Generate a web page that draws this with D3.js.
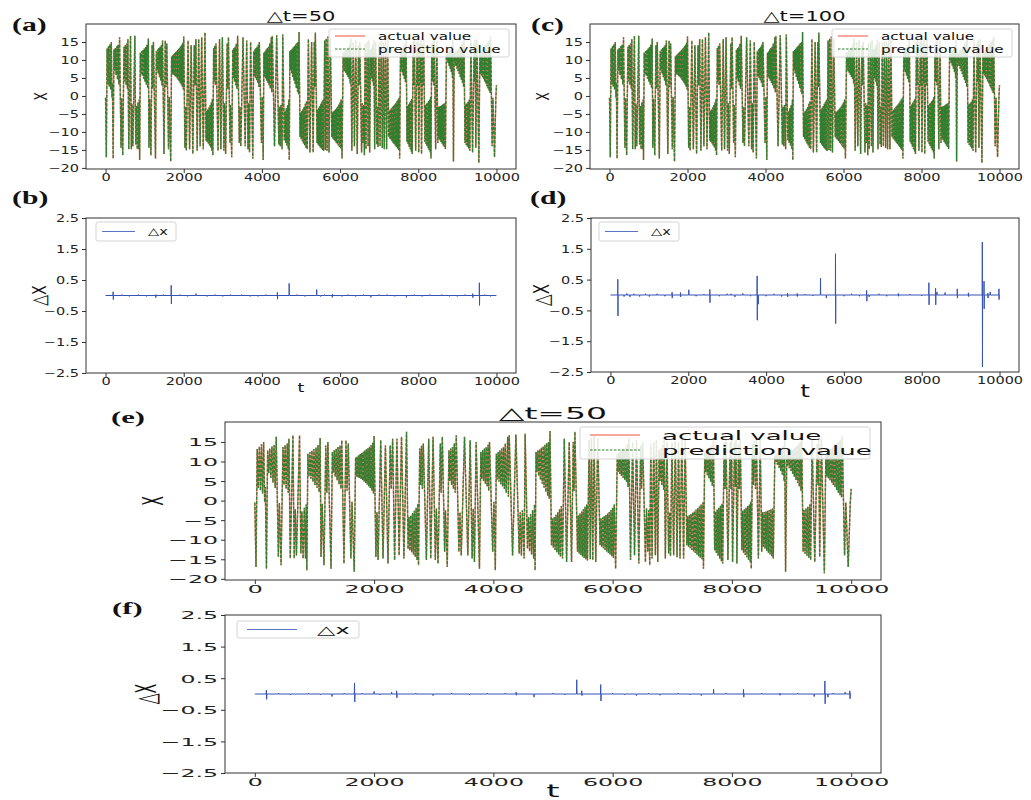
<!DOCTYPE html>
<html>
<head>
<meta charset="utf-8">
<script src="https://cdn.jsdelivr.net/npm/d3@7"></script>
<style>
  body { margin: 0; background: #fff; }
  svg { display: block; }
</style>
</head>
<body>
<svg id="fig" width="1031" height="800"></svg>
<script>
// x(t) extremes, [t, x]
const xPeaks = [
  [0,-0.5],[20,-17.0],[40,13.2],[58,3.2],[76,13.8],[94,2.6],[112,14.4],[130,1.8],[148,15.0],[165,-0.4],[176,3.5],[195,-17.4],
  [215,12.9],[233,7.0],[251,13.3],[269,5.8],[287,13.8],[305,4.6],[323,14.2],[341,3.2],[359,16.3],
  [395,-14.4],[412,-0.6],[440,-16.5],
  [472,13.7],[490,4.0],[508,14.2],[526,3.0],[544,14.6],[560,2.0],[572,15.8],[594,-14.8],[612,-2.5],[639,16.7],[660,-14.8],[678,-2.2],[698,-14.0],[720,-1.5],[750,16.7],[772,-13.5],[790,-2.8],[810,-14.8],[830,-1.8],[850,-14.8],[862,-1.0],[872,-17.8],
  [890,12.0],[907,6.2],[924,12.4],[941,5.6],[958,12.8],[975,4.8],[992,13.2],[1009,4.0],[1026,13.6],[1043,3.2],[1060,14.2],[1077,2.2],[1095,16.0],
  [1110,-14.4],[1130,-0.8],[1160,-16.5],[1190,14.1],[1208,2.0],[1225,15.0],[1278,-17.4],
  [1300,12.4],[1316,7.2],[1332,12.9],[1348,6.2],[1364,13.3],[1380,5.2],[1396,13.7],[1412,4.2],[1428,14.1],[1444,3.0],[1458,15.4],
  [1495,-16.1],[1528,15.4],[1546,2.5],[1567,14.6],[1611,-14.8],[1630,-0.3],[1667,-18.2],
  [1690,11.0],[1703,6.2],[1716,11.3],[1729,6.0],[1742,11.6],[1755,5.8],[1768,11.9],[1781,5.5],[1794,12.2],[1807,5.2],[1820,12.5],[1833,4.9],[1846,12.8],[1859,4.5],[1872,13.1],[1885,4.1],[1898,13.4],[1911,3.7],[1924,13.8],[1937,3.2],[1950,14.2],[1963,2.6],[1976,14.8],[1989,1.8],[2000,16.5],
  [2030,-14.4],[2048,-3.0],[2067,-15.2],[2111,15.4],[2150,-14.8],[2190,14.1],[2233,-16.1],[2270,14.1],[2288,3.0],[2311,15.8],[2344,-15.2],[2383,15.8],[2420,-14.0],[2460,16.3],[2500,-14.8],[2544,17.6],
  [2570,-12.4],[2585,-4.2],[2600,-12.8],[2615,-3.8],[2630,-13.2],[2645,-3.2],[2660,-13.8],[2675,-2.6],[2690,-14.4],[2705,-1.8],[2720,-15.2],[2733,-0.8],[2745,-16.5],
  [2765,13.3],[2780,4.0],[2795,14.0],[2810,3.0],[2825,14.6],[2877,-15.2],[2916,15.8],[2950,-14.8],[2989,16.3],[3027,-15.2],[3045,-2.0],[3072,-16.1],[3111,14.6],[3125,2.0],[3144,16.3],[3183,-13.1],[3197,-2.5],[3227,-17.0],
  [3255,12.9],[3270,5.0],[3285,13.3],[3300,4.0],[3315,13.7],[3330,3.0],[3345,14.6],[3360,2.0],[3378,16.7],
  [3422,-13.1],[3440,-3.0],[3461,-14.0],[3516,16.3],[3572,-14.0],[3611,15.4],[3644,-14.8],[3662,-2.0],[3683,-15.7],[3711,15.0],[3767,-17.4],
  [3790,12.4],[3805,5.6],[3820,12.9],[3835,5.0],[3850,13.3],[3865,4.3],[3880,13.7],[3895,3.6],[3910,14.3],[3922,2.5],[3935,15.0],
  [3989,-13.1],[4010,-0.3],[4033,-17.8],
  [4050,12.0],[4065,5.4],[4080,12.4],[4095,4.8],[4110,12.9],[4125,4.2],[4140,13.3],[4155,3.6],[4170,13.7],[4185,3.0],[4200,14.6],[4215,2.0],[4240,16.3],
  [4252,1.0],[4266,16.7],[4322,-14.0],[4378,16.9],[4433,-13.5],[4450,-3.0],[4470,-14.0],[4487,-2.5],[4516,-14.8],[4533,17.1],[4572,-12.3],[4590,-4.2],[4607,-13.0],[4624,-3.4],[4641,-13.8],[4658,-2.5],[4675,-14.8],[4690,-1.0],[4700,-17.8],
  [4715,12.4],[4730,7.3],[4745,12.8],[4760,6.3],[4775,13.1],[4790,5.3],[4805,13.5],[4820,4.3],[4835,13.9],[4850,3.3],[4865,14.3],[4880,2.2],[4895,14.7],[4910,1.2],[4925,15.0],[4937,0.5],[4950,17.8],
  [4975,-11.4],[4990,-4.6],[5005,-12.0],[5020,-4.2],[5035,-12.6],[5050,-3.6],[5065,-13.2],[5080,-3.0],[5095,-13.8],[5110,-2.2],[5125,-14.4],[5140,-1.4],[5160,-14.8],
  [5189,15.8],[5228,-15.7],[5272,15.0],[5311,-15.7],[5340,15.0],[5352,2.5],[5367,17.6],
  [5411,-13.1],[5425,-3.8],[5439,-13.5],[5453,-3.3],[5467,-13.9],[5481,-2.8],[5495,-14.3],[5509,-2.2],[5523,-14.7],[5537,-1.6],[5551,-15.0],[5565,-1.0],[5578,-15.3],
  [5606,15.4],[5625,-15.0],[5645,16.0],[5667,-15.2],[5689,16.5],[5717,-15.7],[5750,16.0],
  [5789,-11.4],[5803,-4.6],[5817,-11.8],[5831,-4.3],[5845,-12.2],[5859,-4.0],[5873,-12.6],[5887,-3.7],[5901,-13.0],[5915,-3.3],[5929,-13.4],[5943,-2.9],[5957,-13.8],[5971,-2.4],[5985,-14.2],[5999,-1.8],[6013,-14.6],[6027,-1.0],[6050,-17.4],
  [6078,12.0],[6092,7.3],[6106,12.3],[6120,6.8],[6134,12.6],[6148,6.3],[6162,12.9],[6176,5.8],[6190,13.2],[6204,5.3],[6218,13.6],[6232,4.8],[6245,14.5],[6258,3.5],[6272,16.0],
  [6300,-15.2],[6335,15.0],[6367,-14.0],[6400,15.5],[6439,-16.1],[6470,14.0],[6485,3.0],[6505,15.0],[6550,-15.7],[6568,-2.0],[6589,-13.1],[6605,-2.5],[6622,-16.5],
  [6640,14.5],[6661,-14.8],[6690,15.0],[6717,-14.0],[6735,15.5],[6756,-15.7],[6780,13.0],[6795,5.0],[6810,13.5],[6825,4.0],[6840,14.2],[6855,2.8],[6865,15.5],[6884,-14.8],[6910,15.0],[6939,-13.5],[6955,-3.0],[6970,-14.2],[6995,14.8],[7023,-14.0],[7050,15.2],[7080,-14.5],[7105,15.0],[7130,-14.8],[7160,15.6],[7190,-14.8],[7215,16.0],
  [7245,-11.4],[7259,-4.0],[7273,-11.8],[7287,-3.7],[7301,-12.2],[7315,-3.4],[7329,-12.6],[7343,-3.0],[7357,-13.0],[7371,-2.7],[7385,-13.4],[7399,-2.3],[7413,-13.8],[7427,-1.9],[7441,-14.2],[7455,-1.5],[7469,-14.6],[7483,-1.0],[7500,-15.0],[7512,-0.5],[7523,-17.4],
  [7545,12.5],[7559,7.3],[7573,12.9],[7587,6.5],[7601,13.3],[7615,5.7],[7629,13.7],[7643,4.8],[7657,14.1],[7671,3.8],[7690,15.5],
  [7711,-12.7],[7725,-2.8],[7739,-13.4],[7753,-2.3],[7767,-14.1],[7781,-1.8],[7795,-14.8],[7809,-1.3],[7823,-15.5],[7835,-0.8],[7845,-16.1],
  [7870,15.0],[7885,3.0],[7900,15.8],[7933,-15.2],[7970,15.0],[7985,3.0],[7995,15.5],[8011,-15.7],[8045,14.8],[8060,3.5],[8070,15.6],[8083,-16.1],[8110,14.5],[8125,3.0],[8140,16.0],
  [8167,-12.7],[8181,-2.6],[8195,-13.3],[8209,-2.2],[8223,-13.9],[8237,-1.8],[8251,-14.5],[8265,-1.4],[8279,-15.1],[8293,-1.0],[8307,-15.8],[8315,-0.3],[8325,-17.4],
  [8345,14.5],[8360,4.0],[8375,15.2],[8395,3.0],[8410,16.0],[8444,-14.8],[8475,15.5],[8500,-13.1],
  [8514,-3.0],[8528,-11.8],[8542,-2.9],[8556,-12.3],[8570,-2.8],[8584,-12.8],[8598,-2.6],[8612,-13.3],[8626,-2.4],[8640,-13.8],[8654,-2.2],[8668,-14.2],[8682,-2.0],[8694,-14.8],
  [8720,11.5],[8734,10.0],[8748,11.8],[8762,9.2],[8776,12.2],[8790,8.4],[8804,12.6],[8818,7.6],[8832,13.1],[8846,6.6],[8860,14.0],[8874,5.0],[8884,15.5],[8900,-18.2],
  [8920,11.8],[8934,9.0],[8948,12.1],[8962,8.3],[8976,12.4],[8990,7.6],[9004,12.8],[9018,6.9],[9032,13.2],[9046,6.1],[9060,13.6],[9074,5.3],[9088,14.0],[9102,4.5],[9116,14.5],[9130,3.6],[9144,15.0],[9158,2.5],[9170,16.5],
  [9194,-13.1],[9210,-2.4],[9226,-13.6],[9242,-2.0],[9258,-14.1],[9274,-1.6],[9290,-14.6],[9306,-1.0],[9320,-15.2],[9345,15.5],[9389,-15.7],
  [9430,14.5],[9445,4.0],[9455,15.5],[9472,-14.4],[9500,15.8],[9550,-18.6],
  [9575,12.0],[9589,6.2],[9603,12.4],[9617,5.7],[9631,12.8],[9645,5.2],[9659,13.2],[9673,4.6],[9687,13.6],[9701,4.0],[9715,14.0],[9729,3.4],[9743,14.4],[9757,2.7],[9771,14.8],[9785,2.0],[9799,15.2],[9813,1.4],[9827,15.6],
  [9838,0.8],[9850,16.5],[9889,-14.0],[9910,-0.5],[9950,-17.0],[9985,-0.5],[10000,3.0]
]

// prediction error, panel (b): dt = 50
const dxB = [
  [0,0],[190,0],[194,0.12],[199,-0.13],[204,0],[416,0],[420,0.03],[424,0],[606,0],[610,-0.03],[614,0],[836,0],[840,0.03],[844,0],
  [1046,0],[1050,-0.03],[1054,0],[1282,0],[1286,-0.07],[1290,0.03],[1294,0],[1476,0],[1480,0.03],[1484,0],
  [1676,0],[1680,0.33],[1684,-0.27],[1688,0],[1896,0],[1900,0.03],[1904,0],[2096,0],[2100,-0.03],[2104,0],
  [2310,0],[2314,0.06],[2318,0],[2596,0],[2600,-0.03],[2604,0],[2796,0],[2800,0.03],[2804,0],[2996,0],[3000,-0.03],[3004,0],
  [3196,0],[3200,0.03],[3204,0],[3476,0],[3480,0.03],[3484,0],[3696,0],[3700,-0.03],[3704,0],[3896,0],[3900,-0.03],[3904,0],
  [4096,0],[4100,0.03],[4104,0],[4392,0],[4396,0.1],[4400,-0.12],[4404,0],[4694,0],[4697,0.39],[4702,0],
  [4896,0],[4900,0.03],[4904,0],[5096,0],[5100,-0.03],[5104,0],[5398,0],[5401,0.19],[5406,0],[5496,0],[5500,-0.03],[5504,0],
  [5596,0],[5600,0.03],[5604,0],[5798,0],[5802,-0.06],[5806,0.05],[5810,0],[6046,0],[6050,-0.03],[6054,0],
  [6196,0],[6200,0.03],[6204,0],[6396,0],[6400,-0.03],[6404,0],[6596,0],[6600,0.03],[6604,0],[6785,0],[6788,-0.06],[6792,0],
  [6996,0],[7000,0.03],[7004,0],[7196,0],[7200,0.03],[7204,0],[7396,0],[7400,-0.03],[7404,0],[7694,0],[7697,-0.06],[7700,0],
  [7896,0],[7900,0.03],[7904,0],[8096,0],[8100,-0.03],[8104,0],[8296,0],[8300,0.03],[8304,0],[8596,0],[8600,0.03],[8604,0],
  [8796,0],[8800,-0.03],[8804,0],[8996,0],[9000,-0.03],[9004,0],[9196,0],[9200,0.03],[9204,0],
  [9390,0],[9393,0.06],[9396,-0.07],[9400,0],[9560,0],[9563,0.41],[9567,-0.32],[9571,0],[9696,0],[9700,0.03],[9704,0],
  [9846,0],[9850,-0.03],[9854,0],[10000,0]
]

// prediction error, panel (d): dt = 100
const dxD = [
  [0,0],[185,0],[189,0.51],[193,-0.68],[197,0],[346,0],[350,-0.05],[354,0],[416,0],[420,0.05],[424,0],[496,0],[500,-0.06],[504,0],
  [596,0],[600,0.04],[604,0],[746,0],[750,-0.05],[754,0],[896,0],[900,0.04],[904,0],[996,0],[1000,-0.05],[1004,0],
  [1196,0],[1200,0.04],[1204,0],[1396,0],[1400,-0.04],[1404,0],
  [1580,0],[1584,0.09],[1588,-0.1],[1592,0],[1796,0],[1800,0.08],[1804,-0.06],[1808,0],[2010,0],[2014,0.17],[2018,0],
  [2196,0],[2200,-0.04],[2204,0],[2396,0],[2400,0.03],[2404,0],[2550,0],[2554,0.18],[2558,-0.25],[2562,0],
  [2796,0],[2800,-0.04],[2804,0],[2996,0],[3000,0.04],[3004,0],[3096,0],[3100,0.04],[3104,0],[3196,0],[3200,-0.06],[3204,0],
  [3396,0],[3400,0.05],[3404,0],[3596,0],[3600,-0.04],[3604,0],
  [3766,0],[3770,0.62],[3774,-0.82],[3778,0],[3796,0],[3800,-0.3],[3804,0],[3996,0],[4000,-0.04],[4004,0],
  [4196,0],[4200,0.04],[4204,0],[4396,0],[4400,-0.05],[4404,0],[4546,0],[4550,0.06],[4554,-0.06],[4558,0],
  [4796,0],[4800,0.05],[4804,-0.05],[4808,0],[4996,0],[5000,0.03],[5004,0],[5196,0],[5200,-0.03],[5204,0],
  [5395,0],[5399,0.55],[5403,0],[5546,0],[5550,-0.1],[5554,0],[5780,0],[5784,1.34],[5788,-0.93],[5792,0],
  [5996,0],[6000,-0.04],[6004,0],[6196,0],[6200,0.04],[6204,0],[6396,0],[6400,-0.04],[6404,0],
  [6580,0],[6584,0.15],[6590,-0.2],[6594,0],[6646,0],[6650,-0.06],[6654,0],[6896,0],[6900,0.04],[6904,0],
  [7096,0],[7100,-0.04],[7104,0],[7396,0],[7400,0.05],[7404,-0.04],[7408,0],[7696,0],[7700,0.03],[7704,0],[7996,0],[8000,-0.03],[8004,0],
  [8180,0],[8184,0.4],[8188,-0.32],[8192,0],[8352,0],[8356,0.22],[8360,-0.32],[8364,0],[8386,0],[8390,0.1],[8394,0],[8596,0],[8600,0.08],[8604,0],
  [8910,0],[8913,0.2],[8917,-0.1],[8921,0],[9196,0],[9200,0.07],[9204,-0.05],[9208,0],
  [9554,0],[9557,1.72],[9561,-2.34],[9565,0],[9598,0],[9601,0.45],[9605,-0.45],[9609,0],[9696,0],[9700,0.06],[9704,-0.1],[9708,0],[9756,0],[9760,0.1],[9764,0],
  [9980,0],[9984,0.2],[9988,-0.15],[9992,0],[10000,0]
]

// prediction error, panel (f): dt = 50
const dxF = [
  [0,0],[190,0],[194,0.12],[198,-0.17],[202,0],[396,0],[400,0.03],[404,0],[596,0],[600,-0.03],[604,0],[896,0],[900,0.03],[904,0],
  [1096,0],[1100,-0.03],[1104,0],[1290,0],[1294,-0.08],[1298,0],[1496,0],[1500,0.03],[1504,0],
  [1668,0],[1672,0.35],[1676,-0.25],[1680,0],[1796,0],[1800,0.03],[1804,0],[1996,0],[2000,0.08],[2004,0],[2096,0],[2100,-0.03],[2104,0],
  [2290,0],[2294,0.06],[2298,0],[2374,0],[2378,0.1],[2382,-0.12],[2386,0],[2696,0],[2700,0.03],[2704,0],
  [2985,0],[2989,-0.05],[2993,0],[3296,0],[3300,0.03],[3304,0],[3596,0],[3600,-0.03],[3604,0],[3896,0],[3900,0.03],[3904,0],
  [4196,0],[4200,0.03],[4204,0],[4378,0],[4382,0.06],[4386,-0.04],[4390,0],[4679,0],[4683,-0.1],[4687,0],
  [4996,0],[5000,0.03],[5004,0],[5196,0],[5200,-0.03],[5204,0],[5394,0],[5398,0.45],[5402,0],[5478,0],[5482,0.1],[5486,-0.05],[5490,0],
  [5796,0],[5800,0.3],[5804,-0.22],[5808,0],[5996,0],[6000,0.03],[6004,0],[6196,0],[6200,-0.03],[6204,0],[6396,0],[6400,-0.05],[6404,0],
  [6596,0],[6600,0.03],[6604,0],[6790,0],[6794,-0.04],[6798,0],[7096,0],[7100,0.03],[7104,0],[7296,0],[7300,-0.03],[7304,0],
  [7483,0],[7487,-0.05],[7491,0],[7689,0],[7693,0.15],[7697,0],[7896,0],[7900,0.03],[7904,0],[8191,0],[8195,0.15],[8199,-0.1],[8203,0],
  [8496,0],[8500,0.03],[8504,0],[8800,0],[8804,0.03],[8808,-0.04],[8812,0],[9096,0],[9100,0.03],[9104,0],[9376,0],[9380,-0.08],[9384,0],
  [9555,0],[9559,0.41],[9563,-0.31],[9567,0],[9606,0],[9610,-0.1],[9614,0],[9696,0],[9700,0.03],[9704,0],[9895,0],[9899,0.06],[9903,0],
  [9973,0],[9977,0.1],[9981,-0.15],[9985,0],[10000,0]
]

const tTicks = [0, 2000, 4000, 6000, 8000, 10000]
const xTicks = [-20, -15, -10, -5, 0, 5, 10, 15]
const dxTicks = [-2.5, -1.5, -0.5, 0.5, 1.5, 2.5]
const legendX = ["actual value", "prediction value"]
const legendDx = ["\u25B3x"]

const RED = "#f0503c", GREEN = "#2f7f2f", BLUE = "#3553b4"
const svg = d3.select("#fig")

const minus = v => (v < 0 ? "\u2212" : "") + Math.abs(v)
const fmtX = d => minus(d)
const fmtDx = d => (d < 0 ? "\u2212" : "") + Math.abs(d).toFixed(1)

// the figure is stretched sideways, so text is too
function stext(g, x, y, str, size, sx, opts) {
  opts = opts || {}
  return g.append("text")
    .attr("transform", `translate(${x},${y}) scale(${sx},1)` + (opts.rotate ? " rotate(-90)" : ""))
    .attr("text-anchor", opts.anchor || "middle")
    .attr("font-family", opts.family || "DejaVu Sans, sans-serif")
    .attr("font-weight", opts.weight || "normal")
    .attr("font-size", size)
    .attr("fill", "#111")
    .text(str)
}

let clipId = 0
function panel(o) {
  const g = svg.append("g")
  const x = d3.scaleLinear().domain([-500, 10500]).range([o.left, o.right])
  const y = d3.scaleLinear().domain(o.yDomain).range([o.bottom, o.top])
  const tsx = o.tickSx || o.sx

  const id = "clip" + (clipId++)
  g.append("clipPath").attr("id", id).append("rect")
    .attr("x", o.left).attr("y", o.top)
    .attr("width", o.right - o.left).attr("height", o.bottom - o.top)

  const line = d3.line().x(d => x(d[0])).y(d => y(d[1]))
  const plot = g.append("g").attr("clip-path", `url(#${id})`)
  o.series.forEach(s => {
    plot.append("path").datum(s.data)
      .attr("d", line)
      .attr("fill", "none")
      .attr("stroke", s.color)
      .attr("stroke-width", s.width)
      .attr("stroke-opacity", s.opacity || 1)
      .attr("stroke-dasharray", s.dash || null)
  })

  // axes
  const ax = g.append("g").attr("transform", `translate(0,${o.bottom})`)
    .call(d3.axisBottom(x).tickValues(tTicks).tickSize(4).tickFormat(d => d))
  const ay = g.append("g").attr("transform", `translate(${o.left},0)`)
    .call(d3.axisLeft(y).tickValues(o.yTicks).tickSize(4).tickFormat(o.fmt))
  ;[ax, ay].forEach(a => {
    a.select(".domain").remove()
    a.selectAll("line").attr("stroke", "#333")
    a.selectAll("text").attr("font-family", "DejaVu Sans, sans-serif")
      .attr("font-size", o.tickSize).attr("fill", "#222")
  })
  ax.selectAll("text").attr("y", o.xLabelGap).attr("dy", "0.71em")
    .attr("transform", `scale(${tsx},1)`)
  ay.selectAll("text").attr("x", -7 / tsx).attr("dy", "0.36em")
    .attr("transform", `scale(${tsx},1)`)

  g.append("rect")
    .attr("x", o.left).attr("y", o.top)
    .attr("width", o.right - o.left).attr("height", o.bottom - o.top)
    .attr("fill", "none").attr("stroke", "#333").attr("stroke-width", 1)

  // legend
  const L = o.legend
  const lg = g.append("g")
  lg.append("rect")
    .attr("x", L.x).attr("y", L.y).attr("width", L.w).attr("height", L.h)
    .attr("rx", 2).attr("fill", "#fff").attr("fill-opacity", 0.85)
    .attr("stroke", "#d4d4d4")
  L.items.forEach((it, i) => {
    const yy = L.y + L.rowTop + i * L.rowGap
    lg.append("line")
      .attr("x1", L.x + L.lineX0).attr("x2", L.x + L.lineX1)
      .attr("y1", yy).attr("y2", yy)
      .attr("stroke", it.color).attr("stroke-width", 1)
      .attr("stroke-dasharray", it.dash || null)
    stext(lg, L.x + L.textX, yy + L.fontSize * 0.36, it.label, L.fontSize, o.sx, {anchor: "start"})
  })

  if (o.title) stext(g, (o.left + o.right) / 2, o.top - 3, o.title, o.titleSize, o.sx)
  stext(g, o.tagX, o.tagY, o.tag, o.tagSize, o.tagSx,
    {anchor: "start", family: "Liberation Serif, Times New Roman, serif", weight: "bold"})
  stext(g, o.yLabelX, (o.top + o.bottom) / 2, o.yLabel, o.yLabelSize, o.sx, {rotate: true})
  if (o.xLabel) stext(g, (o.left + o.right) / 2, o.xLabelY, o.xLabel, o.xLabelSize, o.sx)
}

function xSeries() {
  return [
    {data: xPeaks, color: RED, width: 1.4, opacity: 0.75},
    {data: xPeaks, color: GREEN, width: 1.35, dash: "3,1.4"}
  ]
}
function xLegend(x, y, w, h, fs, lx0, lx1, tx, rowTop, rowGap) {
  return {x: x, y: y, w: w, h: h, fontSize: fs, lineX0: lx0, lineX1: lx1, textX: tx, rowTop: rowTop, rowGap: rowGap,
    items: [{label: legendX[0], color: RED}, {label: legendX[1], color: GREEN, dash: "2.5,1.5"}]}
}
function dxLegend(x, y, w, h, fs, lx0, lx1, tx) {
  return {x: x, y: y, w: w, h: h, fontSize: fs, lineX0: lx0, lineX1: lx1, textX: tx, rowTop: h / 2, rowGap: 0,
    items: [{label: legendDx[0], color: "#5a74c6"}]}
}

// (a)
panel({left: 86, right: 516, top: 24, bottom: 169, yDomain: [-20.3, 20.0], yTicks: xTicks, fmt: fmtX,
  sx: 1.45, tickSize: 10, xLabelGap: 5,
  series: xSeries(), legend: xLegend(329, 29, 180, 28, 10.5, 6, 36, 49, 7, 13),
  title: "\u25B3t=50", titleSize: 14.5, tag: "(a)", tagX: 12, tagY: 31, tagSize: 18, tagSx: 1.65,
  yLabel: "X", yLabelX: 47, yLabelSize: 12})
// (c)
panel({left: 590, right: 1019, top: 24, bottom: 169, yDomain: [-20.3, 20.0], yTicks: xTicks, fmt: fmtX,
  sx: 1.45, tickSize: 10, xLabelGap: 5,
  series: xSeries(), legend: xLegend(832, 29, 180, 28, 10.5, 6, 36, 49, 7, 13),
  title: "\u25B3t=100", titleSize: 14.5, tag: "(c)", tagX: 531, tagY: 31, tagSize: 18, tagSx: 1.65,
  yLabel: "X", yLabelX: 549, yLabelSize: 12})
// (b)
panel({left: 86, right: 516, top: 218, bottom: 373, yDomain: [-2.5, 2.5], yTicks: dxTicks, fmt: fmtDx,
  sx: 1.45, tickSize: 10, xLabelGap: 5,
  series: [{data: dxB, color: BLUE, width: 1}], legend: dxLegend(96, 222, 80, 19, 10, 6, 39, 52),
  tag: "(b)", tagX: 12, tagY: 204, tagSize: 18, tagSx: 1.65,
  yLabel: "\u25B3X", yLabelX: 46, yLabelSize: 14, xLabel: "t", xLabelY: 392, xLabelSize: 12})
// (d)
panel({left: 591, right: 1019, top: 218, bottom: 372, yDomain: [-2.5, 2.5], yTicks: dxTicks, fmt: fmtDx,
  sx: 1.45, tickSize: 10, xLabelGap: 5,
  series: [{data: dxD, color: BLUE, width: 1}], legend: dxLegend(599, 222, 80, 19, 10, 6, 39, 52),
  tag: "(d)", tagX: 530, tagY: 204, tagSize: 18, tagSx: 1.65,
  yLabel: "\u25B3X", yLabelX: 549, yLabelSize: 15, xLabel: "t", xLabelY: 397, xLabelSize: 17})
// (e)
panel({left: 225, right: 881, top: 422, bottom: 580, yDomain: [-20.3, 20.1], yTicks: xTicks, fmt: fmtX,
  sx: 2.0, tickSx: 2.15, tickSize: 11, xLabelGap: 5,
  series: xSeries(), legend: xLegend(580, 427, 290, 32, 13, 10, 60, 82, 8, 15),
  title: "\u25B3t=50", titleSize: 16.5, tag: "(e)", tagX: 111, tagY: 423, tagSize: 17, tagSx: 1.8,
  yLabel: "X", yLabelX: 163, yLabelSize: 14})
// (f)
panel({left: 225, right: 881, top: 615, bottom: 773, yDomain: [-2.5, 2.5], yTicks: dxTicks, fmt: fmtDx,
  sx: 2.0, tickSx: 2.15, tickSize: 11, xLabelGap: 5,
  series: [{data: dxF, color: BLUE, width: 1}], legend: dxLegend(237, 621, 122, 17, 12, 10, 60, 80),
  tag: "(f)", tagX: 112, tagY: 614, tagSize: 17, tagSx: 1.8,
  yLabel: "\u25B3X", yLabelX: 156, yLabelSize: 14, xLabel: "t", xLabelY: 797, xLabelSize: 17})
</script>
</body>
</html>
